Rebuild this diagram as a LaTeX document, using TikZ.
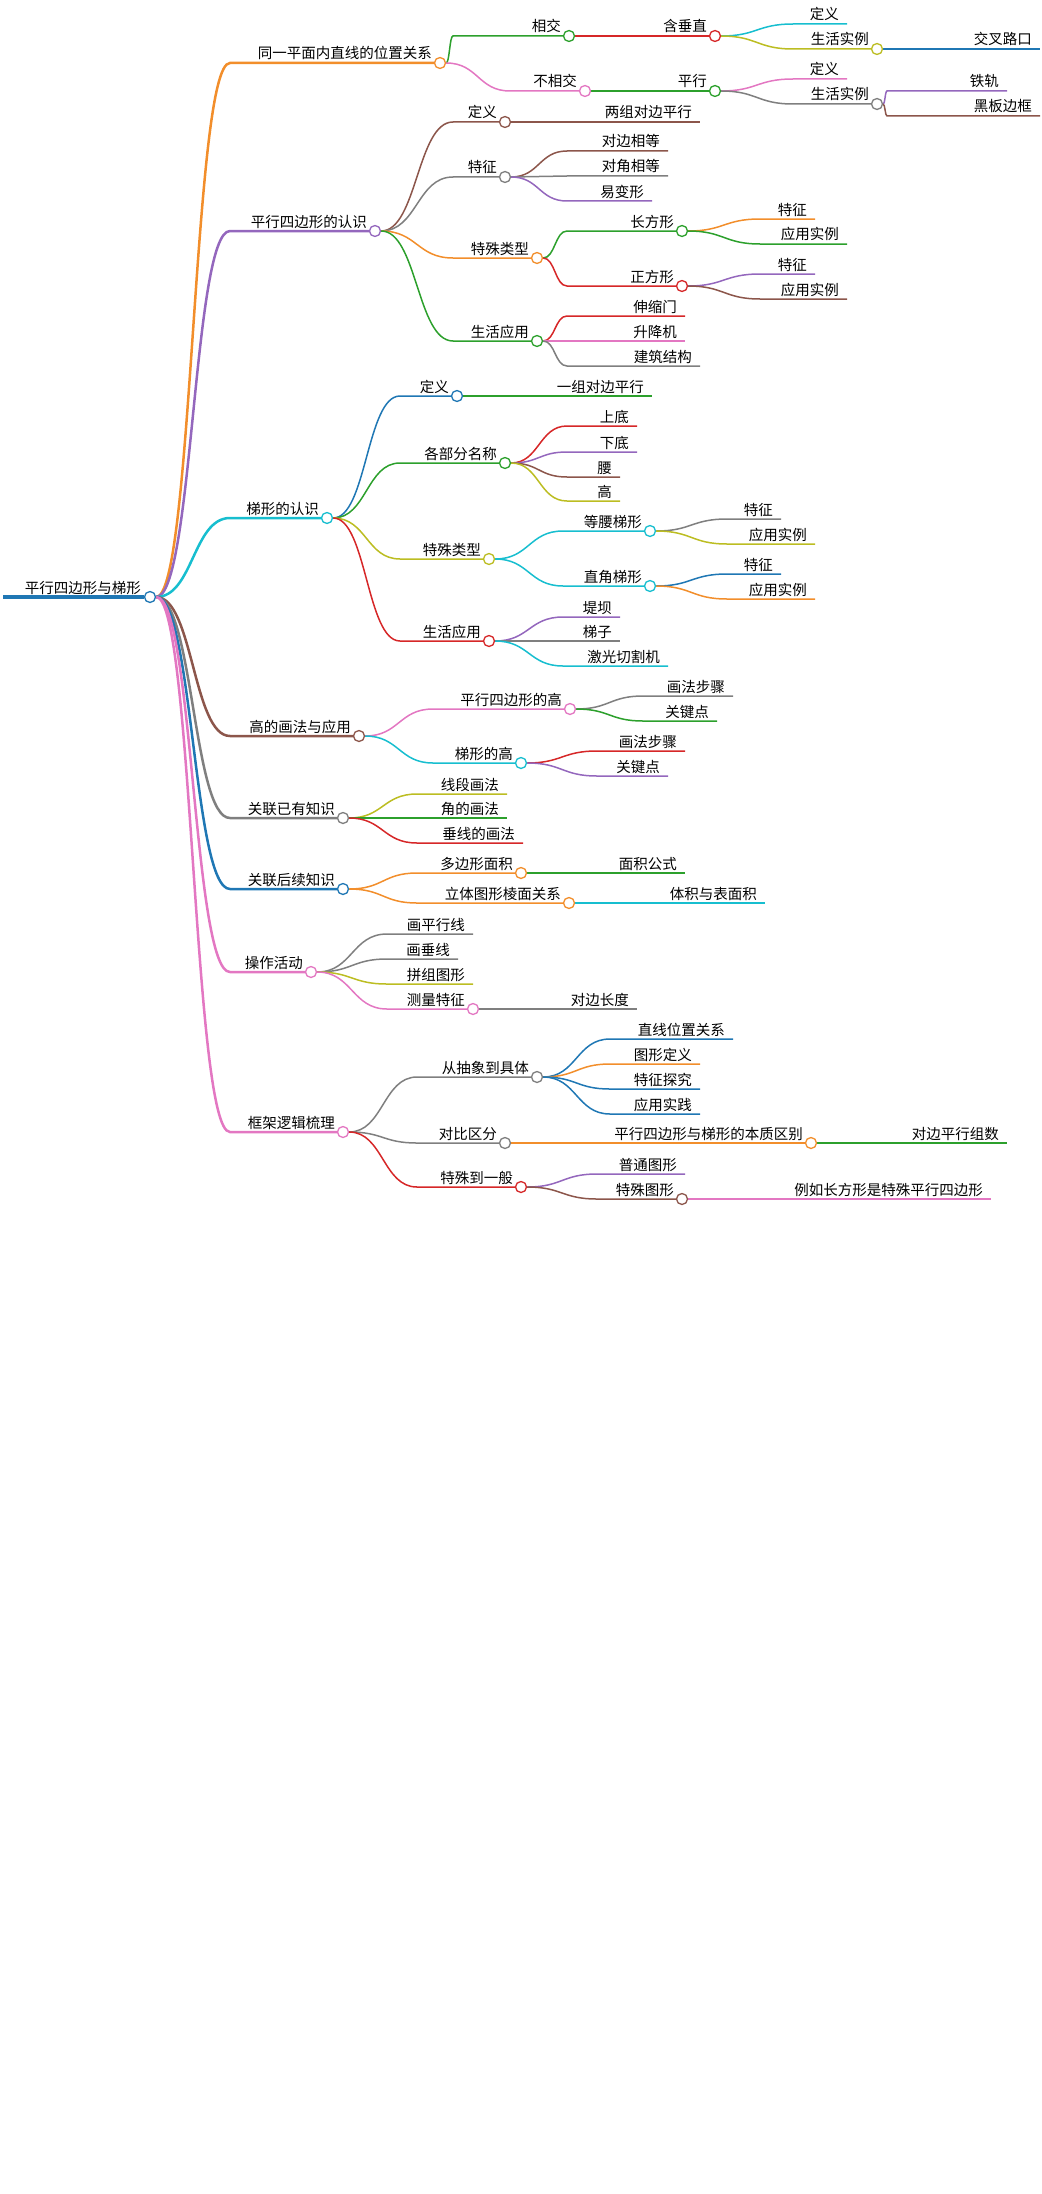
\documentclass[tikz,border=0pt]{standalone}
\usepackage{fontspec}
\setmainfont{Noto Sans CJK SC}
\usetikzlibrary{calc,backgrounds}
\definecolor{cOr}{HTML}{F28E2B}
\definecolor{cPu}{HTML}{9467BD}
\definecolor{cCy}{HTML}{17BECF}
\definecolor{cBr}{HTML}{8C564B}
\definecolor{cGy}{HTML}{7F7F7F}
\definecolor{cBl}{HTML}{1F77B4}
\definecolor{cPk}{HTML}{E377C2}
\definecolor{cGn}{HTML}{2CA02C}
\definecolor{cRd}{HTML}{D62728}
\definecolor{cYe}{HTML}{BCBD22}
% branch with a circle: name, parent, x start, x end, y, colour, text, width
\newcommand{\mmbranch}[8]{%
  \coordinate (#1-s) at (#3,#5);
  \node[dot, draw=#6] (#1) at (#4,#5) {};
  \node[lbl, anchor=base east] (#1-t) at ([xshift=-8pt,yshift=4pt]#1.center) {#7};
  \begin{pgfonlayer}{background}
  \draw[#6, line width=#8] let \p1=(#2.east), \p2=(#1-s) in
    (\p1) .. controls ({(\x1+\x2)/2},\y1) and ({(\x1+\x2)/2},\y2) .. (\p2) -- (#1.center);
  \end{pgfonlayer}}
% leaf: name, parent, x start, x end, y, colour, text
\newcommand{\mmleaf}[7]{%
  \coordinate (#1-s) at (#3,#5);
  \coordinate (#1) at (#4,#5);
  \node[lbl, anchor=base east] (#1-t) at ([xshift=-8pt,yshift=4pt]#1) {#7};
  \begin{pgfonlayer}{background}
  \draw[#6, line width=1.5pt] let \p1=(#2.east), \p2=(#1-s) in
    (\p1) .. controls ({(\x1+\x2)/2},\y1) and ({(\x1+\x2)/2},\y2) .. (\p2) -- (#1);
  \end{pgfonlayer}}

\begin{document}
\begin{tikzpicture}[x=1pt,y=-1pt]
    \tikzstyle{dot}=[circle, fill=white, line width=1.3pt, minimum size=11pt, inner sep=0pt]
    \tikzstyle{lbl}=[font=\fontsize{14.5}{17}\selectfont, inner sep=0pt]
\useasboundingbox (0,0) rectangle (1041,2194);

% root
\coordinate (root-s) at (3,597);
\node[dot, draw=cBl] (root) at (150,597) {};
\node[lbl, anchor=base east] (root-t) at (141,593) {平行四边形与梯形};
\begin{pgfonlayer}{background}
\draw[cBl, line width=4pt] (root-s) -- (root);
\end{pgfonlayer}

% lines in a plane
\mmbranch{a}{root}{230}{440}{63}{cOr}{同一平面内直线的位置关系}{2.5pt}
\mmbranch{a1}{a}{453}{569}{36}{cGn}{相交}{1.5pt}
\mmbranch{a11}{a1}{577}{715}{36}{cRd}{含垂直}{1.5pt}
\mmleaf{a111}{a11}{793}{847}{24}{cCy}{定义}
\mmbranch{a112}{a11}{793}{877}{49}{cYe}{生活实例}{1.5pt}
\mmleaf{a1121}{a112}{887}{1040}{49}{cBl}{交叉路口}
\mmbranch{a2}{a}{510}{585}{91}{cPk}{不相交}{1.5pt}
\mmbranch{a21}{a2}{593}{715}{91}{cGn}{平行}{1.5pt}
\mmleaf{a211}{a21}{793}{847}{79}{cPk}{定义}
\mmbranch{a212}{a21}{793}{877}{104}{cGy}{生活实例}{1.5pt}
\mmleaf{a2121}{a212}{887}{1007}{91}{cPu}{铁轨}
\mmleaf{a2122}{a212}{887}{1040}{116}{cBr}{黑板边框}

% parallelogram
\mmbranch{b}{root}{230}{375}{231}{cPu}{平行四边形的认识}{2.5pt}
\mmbranch{b1}{b}{453}{505}{122}{cBr}{定义}{1.5pt}
\mmleaf{b11}{b1}{505}{700}{122}{cBr}{两组对边平行}
\mmbranch{b2}{b}{453}{505}{177}{cGy}{特征}{1.5pt}
\mmleaf{b21}{b2}{567}{668}{151}{cBr}{对边相等}
\mmleaf{b22}{b2}{567}{668}{176}{cGy}{对角相等}
\mmleaf{b23}{b2}{567}{652}{201}{cPu}{易变形}
\mmbranch{b3}{b}{453}{537}{258}{cOr}{特殊类型}{1.5pt}
\mmbranch{b31}{b3}{567}{682}{231}{cGn}{长方形}{1.5pt}
\mmleaf{b311}{b31}{760}{815}{219}{cOr}{特征}
\mmleaf{b312}{b31}{760}{847}{244}{cGn}{应用实例}
\mmbranch{b32}{b3}{567}{682}{286}{cRd}{正方形}{1.5pt}
\mmleaf{b321}{b32}{760}{815}{274}{cPu}{特征}
\mmleaf{b322}{b32}{760}{847}{299}{cBr}{应用实例}
\mmbranch{b4}{b}{453}{537}{341}{cGn}{生活应用}{1.5pt}
\mmleaf{b41}{b4}{567}{685}{316}{cRd}{伸缩门}
\mmleaf{b42}{b4}{567}{685}{341}{cPk}{升降机}
\mmleaf{b43}{b4}{567}{700}{366}{cGy}{建筑结构}

% trapezoid
\mmbranch{c}{root}{230}{327}{518}{cCy}{梯形的认识}{2.5pt}
\mmbranch{c1}{c}{400}{457}{396}{cBl}{定义}{1.5pt}
\mmleaf{c11}{c1}{457}{652}{396}{cGn}{一组对边平行}
\mmbranch{c2}{c}{400}{505}{463}{cGn}{各部分名称}{1.5pt}
\mmleaf{c21}{c2}{567}{637}{426}{cRd}{上底}
\mmleaf{c22}{c2}{567}{637}{452}{cPu}{下底}
\mmleaf{c23}{c2}{567}{620}{477}{cBr}{腰}
\mmleaf{c24}{c2}{567}{620}{501}{cYe}{高}
\mmbranch{c3}{c}{400}{489}{559}{cYe}{特殊类型}{1.5pt}
\mmbranch{c31}{c3}{563}{650}{531}{cCy}{等腰梯形}{1.5pt}
\mmleaf{c311}{c31}{727}{781}{519}{cGy}{特征}
\mmleaf{c312}{c31}{727}{815}{544}{cYe}{应用实例}
\mmbranch{c32}{c3}{563}{650}{586}{cCy}{直角梯形}{1.5pt}
\mmleaf{c321}{c32}{727}{781}{574}{cBl}{特征}
\mmleaf{c322}{c32}{727}{815}{599}{cOr}{应用实例}
\mmbranch{c4}{c}{400}{489}{641}{cRd}{生活应用}{1.5pt}
\mmleaf{c41}{c4}{563}{620}{617}{cPu}{堤坝}
\mmleaf{c42}{c4}{563}{620}{641}{cGy}{梯子}
\mmleaf{c43}{c4}{563}{668}{666}{cCy}{激光切割机}

% heights
\mmbranch{d}{root}{230}{359}{736}{cBr}{高的画法与应用}{2.5pt}
\mmbranch{d1}{d}{433}{570}{709}{cPk}{平行四边形的高}{1.5pt}
\mmleaf{d11}{d1}{643}{733}{696}{cGy}{画法步骤}
\mmleaf{d12}{d1}{643}{717}{721}{cGn}{关键点}
\mmbranch{d2}{d}{433}{521}{763}{cCy}{梯形的高}{1.5pt}
\mmleaf{d21}{d2}{597}{685}{751}{cRd}{画法步骤}
\mmleaf{d22}{d2}{597}{668}{776}{cPu}{关键点}

% prior knowledge
\mmbranch{e}{root}{230}{343}{818}{cGy}{关联已有知识}{2.5pt}
\mmleaf{e1}{e}{417}{507}{794}{cYe}{线段画法}
\mmleaf{e2}{e}{417}{507}{818}{cGn}{角的画法}
\mmleaf{e3}{e}{417}{523}{843}{cRd}{垂线的画法}

% later knowledge
\mmbranch{f}{root}{230}{343}{889}{cBl}{关联后续知识}{2.5pt}
\mmbranch{f1}{f}{417}{521}{873}{cOr}{多边形面积}{1.5pt}
\mmleaf{f11}{f1}{521}{685}{873}{cGn}{面积公式}
\mmbranch{f2}{f}{417}{569}{903}{cOr}{立体图形棱面关系}{1.5pt}
\mmleaf{f21}{f2}{569}{765}{903}{cCy}{体积与表面积}

% activities
\mmbranch{g}{root}{230}{311}{972}{cPk}{操作活动}{2.5pt}
\mmleaf{g1}{g}{387}{473}{934}{cGy}{画平行线}
\mmleaf{g2}{g}{387}{458}{959}{cGy}{画垂线}
\mmleaf{g3}{g}{387}{473}{984}{cYe}{拼组图形}
\mmbranch{g4}{g}{387}{473}{1009}{cPk}{测量特征}{1.5pt}
\mmleaf{g41}{g4}{473}{637}{1009}{cGy}{对边长度}

% framework
\mmbranch{h}{root}{230}{343}{1132}{cPk}{框架逻辑梳理}{2.5pt}
\mmbranch{h1}{h}{417}{537}{1077}{cGy}{从抽象到具体}{1.5pt}
\mmleaf{h11}{h1}{610}{733}{1039}{cBl}{直线位置关系}
\mmleaf{h12}{h1}{610}{700}{1064}{cOr}{图形定义}
\mmleaf{h13}{h1}{610}{700}{1089}{cBl}{特征探究}
\mmleaf{h14}{h1}{610}{700}{1114}{cBl}{应用实践}
\mmbranch{h2}{h}{417}{505}{1143}{cGy}{对比区分}{1.5pt}
\mmbranch{h21}{h2}{505}{811}{1143}{cOr}{平行四边形与梯形的本质区别}{1.5pt}
\mmleaf{h211}{h21}{811}{1007}{1143}{cGn}{对边平行组数}
\mmbranch{h3}{h}{417}{521}{1187}{cRd}{特殊到一般}{1.5pt}
\mmleaf{h31}{h3}{597}{685}{1174}{cPu}{普通图形}
\mmbranch{h32}{h3}{597}{682}{1199}{cBr}{特殊图形}{1.5pt}
\mmleaf{h321}{h32}{682}{991}{1199}{cPk}{例如长方形是特殊平行四边形}

\end{tikzpicture}
\end{document}
